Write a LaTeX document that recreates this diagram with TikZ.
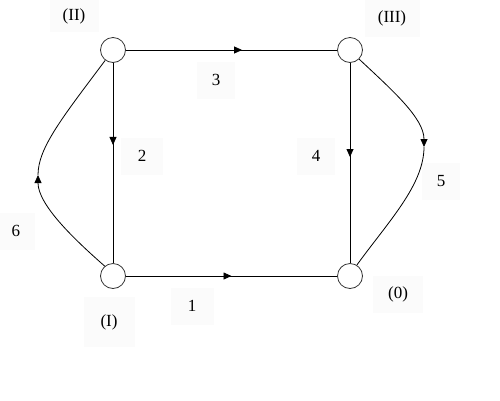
\documentclass[tikz,border=0pt]{standalone}
\usepackage{fontspec}
\setmainfont{Liberation Serif}
\usetikzlibrary{arrows.meta,decorations.markings}
\begin{document}
\begin{tikzpicture}[x=1pt,y=-1pt,
  vert/.style={circle,draw=black!80,line width=0.8pt,minimum size=25pt,inner sep=0pt,fill=white},
  lbl/.style={fill=black!1.5,inner sep=0pt,minimum width=38pt,minimum height=37pt,font=\fontsize{17}{20}\selectfont},
  edge/.style={line width=0.8pt,black},
  tip/.style={-{Triangle[length=8pt,width=7pt]}},
  midarrow/.style={postaction={decorate},decoration={markings,mark=at position #1 with {\arrow{Triangle[length=8pt,width=7pt]}}}}
]
\useasboundingbox (0,0) rectangle (500,400);
% labels
\node[lbl,minimum width=49pt,minimum height=32pt] (lII) at (74,16) {(II)};
\node[lbl,minimum width=55pt] (lIII) at (392,18) {(III)};
\node[lbl] (l3) at (216,80) {3};
\node[lbl,minimum width=42pt] (l2) at (142,156) {2};
\node[lbl] (l4) at (316,156) {4};
\node[lbl] (l5) at (441,181) {5};
\node[lbl] (l6) at (16,231) {6};
\node[lbl,minimum width=43pt] (l1) at (192,306) {1};
\node[lbl,minimum width=51pt,minimum height=50pt] (lI) at (109,322) {(I)};
\node[lbl,minimum width=50pt] (l0) at (398,294) {(0)};
% vertices
\node[vert] (II) at (113,50) {};
\node[vert] (III) at (350,50) {};
\node[vert] (I) at (113,276) {};
\node[vert] (O) at (350,276) {};
\coordinate (c6) at (38,175);
\coordinate (c5) at (424,147);
% straight edges
\draw[edge,midarrow=0.55] (II) -- (III);
\draw[edge,midarrow=0.41] (II) -- (I);
\draw[edge,midarrow=0.47] (III) -- (O);
\draw[edge,midarrow=0.5] (I) -- (O);
% curved edges
\draw[edge,tip] (I.130) .. controls (75,240) and (38,205) .. (c6);
\draw[edge] (c6) .. controls (38,148) and (62,118) .. (II.233);
\draw[edge,tip] (III.-45) .. controls (392,90) and (424,118) .. (c5);
\draw[edge] (c5) .. controls (424,185) and (388,222) .. (O.58);
\end{tikzpicture}
\end{document}
